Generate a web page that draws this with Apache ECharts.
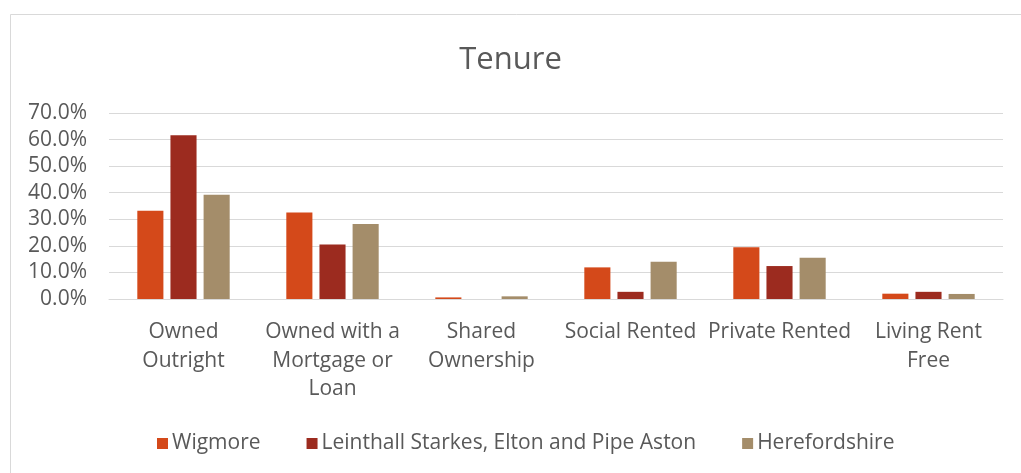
<!DOCTYPE html>
<html>
<head>
<meta charset="utf-8">
<script src="https://cdn.jsdelivr.net/npm/echarts@6/dist/echarts.min.js"></script>
<style>
  html, body { margin: 0; padding: 0; background: #fff; }
  #chart { width: 1021px; height: 473px; }
</style>
</head>
<body>
<div id="chart"></div>
<script>
var categories = ['Owned\nOutright', 'Owned with a\nMortgage or\nLoan', 'Shared\nOwnership', 'Social Rented', 'Private Rented', 'Living Rent\nFree'];
var wigmore = [33.2, 32.6, 0.6, 11.9, 19.5, 2.0];
var leinthall = [61.6, 20.5, 0.0, 2.7, 12.4, 2.7];
var herefordshire = [39.2, 28.2, 1.0, 14.0, 15.5, 1.9];
var seriesNames = ['Wigmore', 'Leinthall Starkes, Elton and Pipe Aston', 'Herefordshire'];

var chartDom = document.getElementById('chart');
var myChart = echarts.init(chartDom);
var font = '"Open Sans", sans-serif';
var textColor = '#595959';

var option = {
  backgroundColor: '#fff',
  animation: false,
  color: ['#D4491A', '#9C2B1F', '#A48D6A'],
  textStyle: { fontFamily: font },
  graphic: [{
    type: 'rect',
    shape: { x: 10.5, y: 14.5, width: 1100, height: 600 },
    style: { fill: 'none', stroke: '#d9d9d9', lineWidth: 1 },
    silent: true
  }],
  title: {
    text: 'Tenure',
    left: 'center',
    top: 40,
    textStyle: { color: textColor, fontSize: 31, fontWeight: 'normal', fontFamily: font }
  },
  legend: {
    bottom: 14,
    left: 152,
    itemWidth: 11,
    itemHeight: 11,
    itemGap: 46,
    icon: 'rect',
    textStyle: { color: textColor, fontSize: 21, fontFamily: font, padding: [0, 0, 0, -1] },
    data: seriesNames
  },
  grid: { left: 109, right: 18, top: 113, bottom: 174 },
  xAxis: {
    type: 'category',
    data: categories,
    axisTick: { show: false },
    axisLine: { lineStyle: { color: '#d9d9d9' } },
    axisLabel: { color: textColor, fontSize: 21, fontFamily: font, margin: 19, lineHeight: 28.5, interval: 0 }
  },
  yAxis: {
    type: 'value',
    min: 0,
    max: 70,
    interval: 10,
    axisLine: { show: false },
    axisTick: { show: false },
    splitLine: { lineStyle: { color: '#d9d9d9', width: 1 } },
    axisLabel: {
      color: textColor, fontSize: 21, fontFamily: font, margin: 22,
      formatter: function (v) { return v.toFixed(1) + '%'; }
    }
  },
  series: [
    { name: seriesNames[0], type: 'bar', data: wigmore, barGap: '27%', barCategoryGap: '38%' },
    { name: seriesNames[1], type: 'bar', data: leinthall, barGap: '27%', barCategoryGap: '38%' },
    { name: seriesNames[2], type: 'bar', data: herefordshire, barGap: '27%', barCategoryGap: '38%' }
  ]
};

option && myChart.setOption(option);

window.addEventListener('resize', function () {
  myChart.resize();
});
</script>
</body>
</html>
